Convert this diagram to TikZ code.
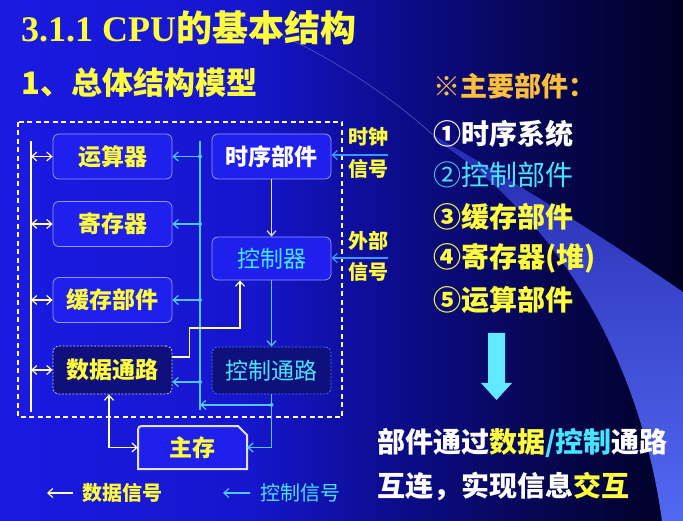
\documentclass[tikz,border=0pt]{standalone}
\usepackage{fontspec}
\setmainfont{Liberation Serif}
\newfontfamily\cjk{Noto Sans CJK SC}
\usetikzlibrary{calc,arrows.meta}

\definecolor{bgA}{RGB}{26,26,226}
\definecolor{bgB}{RGB}{22,22,206}
\definecolor{bgC}{RGB}{12,12,140}
\definecolor{bgD}{RGB}{6,6,80}
\definecolor{bgE}{RGB}{0,0,36}
\definecolor{wedgeA}{RGB}{38,44,178}
\definecolor{wedgeB}{RGB}{82,104,240}
\definecolor{ylw}{RGB}{255,255,60}
\definecolor{orng}{RGB}{255,190,60}
\definecolor{cyanT}{RGB}{70,228,255}
\definecolor{cyanL}{RGB}{80,200,255}
\definecolor{extL}{RGB}{60,150,255}
\definecolor{palY}{RGB}{255,255,175}
\definecolor{palW}{RGB}{225,225,255}
\definecolor{boxfill}{RGB}{32,32,238}
\definecolor{boxline}{RGB}{150,150,255}
\definecolor{pathfill}{RGB}{16,16,125}
\definecolor{dotW}{RGB}{200,200,255}
\definecolor{dotC}{RGB}{70,120,255}

\pgfdeclarehorizontalshading{slidebg}{100bp}{color(0bp)=(bgA); color(25bp)=(bgA); color(43bp)=(bgB);
  color(54bp)=(bgC); color(65bp)=(bgD); color(75bp)=(bgE); color(100bp)=(bgE)}

\begin{document}
\begin{tikzpicture}[x=1pt, y=-1pt, >={Straight Barb[length=5pt,width=9pt]},
  box/.style={draw=boxline, fill=boxfill, rounded corners=6pt, line width=0.8pt,
    minimum width=119pt, minimum height=45pt, inner sep=0pt,
    font=\cjk\bfseries\fontsize{23}{23}\selectfont},
  pathbox/.style={box, fill=pathfill, dash pattern=on 2pt off 1.5pt},
  dline/.style={palY, line width=1.2pt},
  cline/.style={cyanL, line width=1.2pt},
  wline/.style={palW, line width=1.2pt},
  eline/.style={extL, line width=1.2pt},
  lbl/.style={text=ylw, font=\cjk\bfseries\fontsize{20}{20}\selectfont, inner sep=0pt},
  item/.style={anchor=west, inner sep=0pt, font=\cjk\bfseries\fontsize{28}{28}\selectfont}]
\useasboundingbox (0,0) rectangle (683,521);
\shade[shading=slidebg] (0,0) rectangle (683,521);
\shade[top color=wedgeA, bottom color=wedgeB] (433,135) .. controls (520,185) and (600,235) .. (683,292)
  -- (683,521) -- (662,521) .. controls (640,360) and (560,220) .. (433,138) -- cycle;
\draw[wedgeA!80!white, line width=0.6pt] (225,12) .. controls (320,45) and (395,100) .. (433,135);

\node[anchor=west, inner sep=0pt, text=ylw, font=\bfseries\fontsize{36}{36}\selectfont] (title) at (21,28) {3.1.1 CPU{\cjk 的基本结构}};
\node[anchor=west, inner sep=0pt, text=ylw, font=\cjk\bfseries\fontsize{31}{31}\selectfont] (subtitle) at (21,83) {1、总体结构模型};

\draw[white, line width=1.6pt, dash pattern=on 5pt off 3.5pt] (18,122) rectangle (342,417);

\node[box, text=ylw] (alu) at (112.5,156.5) {运算器};
\node[box, text=ylw] (reg) at (112.5,224) {寄存器};
\node[box, text=ylw] (cache) at (112.5,300) {缓存部件};
\node[pathbox, draw=dotW, text=ylw, minimum height=48pt] (dpath) at (112.5,370) {数据通路};
\node[box, text=white] (timing) at (271.5,156.5) {时序部件};
\node[box, text=cyanT, minimum height=43pt, font=\cjk\fontsize{23}{23}\selectfont] (ctrl) at (271.5,258.5) {控制器};
\node[pathbox, draw=dotC, text=cyanT, minimum height=47pt, font=\cjk\fontsize{23}{23}\selectfont] (cpath) at (271.5,370.5) {控制通路};

\coordinate (memA) at (138,426);
\coordinate (memB) at (247,469);
\filldraw[fill=boxfill, draw=palW, line width=2pt] (memA |- memB) -- ($(memA)+(0,8)$) .. controls (memA) .. ($(memA)+(8,0)$)
  -- ($(memB |- memA)+(-9,0)$) -- ($(memB |- memA)+(0,9)$) -- (memB) -- cycle;
\node[inner sep=0pt, minimum width=109pt, minimum height=43pt, text=ylw, font=\cjk\bfseries\fontsize{23}{23}\selectfont] (mem) at ($(memA)!0.5!(memB)$) {主存};

\coordinate (dbusT) at (31,141);
\coordinate (dbusB) at (31,412);
\draw[dline] (dbusT) -- (dbusB);
\foreach \n in {alu,reg,cache,dpath}
  \draw[dline,<->] (\n.west -| dbusT) -- (\n.west);

\coordinate (cbusT) at (200,141);
\coordinate (cbusB) at (200,410);
\draw[cline] (cbusT) -- (cbusB);
\foreach \n in {alu,reg,cache} {
  \draw[cline,->] (\n.east -| cbusT) -- (\n.east);
  \fill[cyanL] (\n.east -| cbusT) circle (2);
}
\draw[cline,->] ([yshift=-12pt]dpath.east -| cbusT) -- ([yshift=-12pt]dpath.east);
\fill[cyanL] ([yshift=-12pt]dpath.east -| cbusT) circle (2);

\draw[dline,->] ([yshift=13pt]dpath.east) -- ++(17,0) -- ++(0,-29) -| ([xshift=-31.5pt]ctrl.south);
\draw[dline,<->] ([xshift=-3.5pt]dpath.south) |- (mem.west);

\draw[wline,->] (timing.south) -- (ctrl.north);
\draw[cline,->] (ctrl.south) -- (cpath.north);
\coordinate (cj) at ($(cpath.south)+(0,10.5)$);
\draw[cline] (cpath.south) -- (cj);
\draw[cline,->] (cj) -- (cj -| cbusT);
\draw[cline,->] (cj) |- (mem.east);
\fill[cyanL] (cj) circle (2);

\coordinate (clkIn) at (388,155);
\coordinate (extIn) at (388,258);
\draw[eline,->] (clkIn) -- (clkIn -| timing.east);
\draw[eline,->] (extIn) -- (extIn -| ctrl.east);
\node[lbl] (clkA) at (368,137) {时钟};
\node[lbl] (clkB) at (368,169) {信号};
\node[lbl] (extA) at (368,241) {外部};
\node[lbl] (extB) at (368,272) {信号};

\node[lbl, anchor=west] (legD) at (82,493) {数据信号};
\draw[dline,->] ([xshift=-9pt]legD.west) -- ++(-26,0);
\node[lbl, anchor=west, text=cyanT, font=\cjk\fontsize{20}{20}\selectfont] (legC) at (260,493) {控制信号};
\draw[cline,->] ([xshift=-10pt]legC.west) -- ++(-27,0);

\node[item, text=orng, font=\cjk\bfseries\fontsize{27}{27}\selectfont] (parts) at (433,86) {※主要部件：};
\node[item, text=white] (it1) at (433,134) {①时序系统};
\node[item, text=cyanT, font=\cjk\fontsize{28}{28}\selectfont] (it2) at (433,175) {②控制部件};
\node[item, text=ylw] (it3) at (433,217) {③缓存部件};
\node[item, text=ylw] (it4) at (433,258) {④寄存器(堆)};
\node[item, text=ylw] (it5) at (433,300) {⑤运算部件};

\fill[cyanT!85!white] (488,333) -- (505,333) -- (505,383) -- (512,383) -- (496.5,400) -- (481,383) -- (488,383) -- cycle;

\node[item, text=white] (sum1) at (377,443) {部件通过\textcolor{ylw}{数据}\textcolor{cyanT}{/控制}通路};
\node[item, text=white] (sum2) at (377,486) {互连，实现信息\textcolor{ylw}{交互}};
\end{tikzpicture}
\end{document}
